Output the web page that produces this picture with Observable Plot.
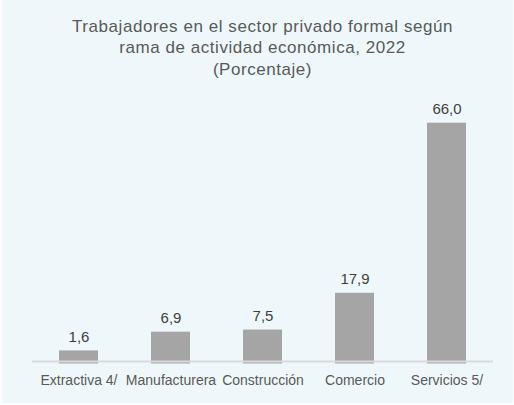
<!DOCTYPE html>
<html>
<head>
<meta charset="utf-8">
<script src="https://cdn.jsdelivr.net/npm/d3@7"></script>
<script src="https://cdn.jsdelivr.net/npm/@observablehq/plot@0.6"></script>
<style>
  html, body { margin: 0; padding: 0; background: #ffffff; }
  #chart {
    position: absolute; left: 2px; top: 0; width: 511px; height: 403px;
    background: #eef8fa; font-family: "Liberation Sans", Arial, sans-serif;
    overflow: hidden;
  }
  #title {
    height: 95px; box-sizing: border-box; padding-top: 16px; padding-left: 10px;
    text-align: center; color: #595959; font-size: 17px; line-height: 21.3px;
    letter-spacing: 0.55px;
  }
  svg { display: block; }
</style>
</head>
<body>
<div id="chart">
  <div id="title">Trabajadores en el sector privado formal según<br>rama de actividad económica, 2022<br>(Porcentaje)</div>
</div>
<script>
const categories = ["Extractiva 4/", "Manufacturera", "Construcción", "Comercio", "Servicios 5/"];
const values = [1.6, 6.9, 7.5, 17.9, 66.0];
const yMin = -2.1;      // Excel axis sits slightly below zero
const axisLineAt = -1.4;

const data = categories.map((c, i) => ({cat: c, value: values[i]}));
const fmt = v => v.toFixed(1).replace(".", ",");

const plot = Plot.plot({
  width: 511,
  height: 308,
  marginLeft: 30,
  marginRight: 20,
  marginTop: 27.7,
  marginBottom: 39.5,
  style: {background: "transparent", fontFamily: "Liberation Sans, Arial, sans-serif"},
  x: {domain: categories, paddingInner: 0.574, paddingOuter: 0.287, label: null},
  y: {domain: [yMin, 66], axis: null},
  marks: [
    Plot.barY(data, {x: "cat", y1: yMin, y2: "value", fill: "#a5a5a5"}),
    Plot.ruleY([axisLineAt], {stroke: "#d9d9d9", strokeWidth: 2}),
    Plot.text(data, {x: "cat", y: "value", text: d => fmt(d.value), lineAnchor: "bottom", dy: -9.4, fontSize: 15, fill: "#404040"}),
    Plot.axisX({tickSize: 0, tickPadding: 11.5, fontSize: 14, color: "#595959", label: null})
  ]
});
document.getElementById("chart").appendChild(plot);
</script>
</body>
</html>
